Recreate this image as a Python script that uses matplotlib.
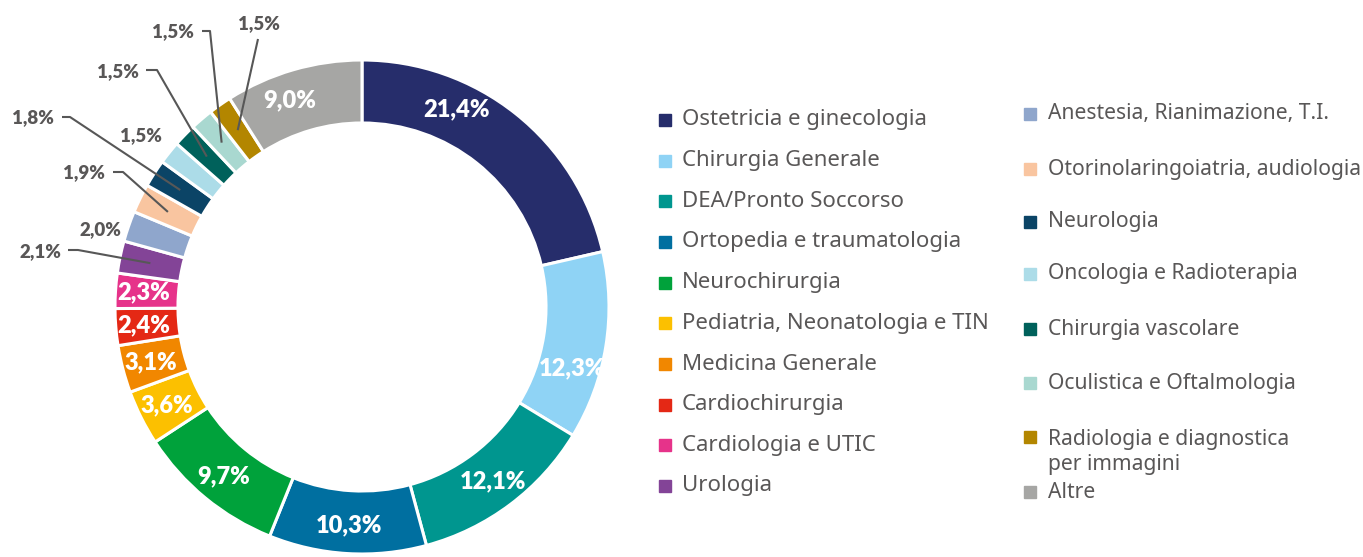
import numpy as np
import matplotlib
matplotlib.use("Agg")
import matplotlib.pyplot as plt
from matplotlib.patches import Rectangle

# ---------------------------------------------------------------------------
# data
# ---------------------------------------------------------------------------
categories = [
    "Ostetricia e ginecologia", "Chirurgia Generale", "DEA/Pronto Soccorso",
    "Ortopedia e traumatologia", "Neurochirurgia", "Pediatria, Neonatologia e TIN",
    "Medicina Generale", "Cardiochirurgia", "Cardiologia e UTIC", "Urologia",
    "Anestesia, Rianimazione, T.I.", "Otorinolaringoiatria, audiologia",
    "Neurologia", "Oncologia e Radioterapia", "Chirurgia vascolare",
    "Oculistica e Oftalmologia", "Radiologia e diagnostica\nper immagini", "Altre",
]
values = [21.4, 12.3, 12.1, 10.3, 9.7, 3.6, 3.1, 2.4, 2.3, 2.1,
          2.0, 1.9, 1.8, 1.5, 1.5, 1.5, 1.5, 9.0]
colors = ["#262d6b", "#8fd3f5", "#00968f", "#006fa0", "#00a23b", "#fcc000",
          "#f18700", "#e42815", "#e6338a", "#834497", "#8fa6cc", "#f9c5a0",
          "#0b4466", "#acdce8", "#00615b", "#a9d8d0", "#b38600", "#a6a6a4"]

# labels drawn inside the ring, the rest outside with leader lines
inside = [0, 1, 2, 3, 4, 5, 6, 7, 8, 17]
angle_shift = {0: 13, 1: -7, 17: 3}           # degrees, to nudge a few labels
# outside labels: index, text centre (px), leader points before the slice (px)
outside = [
    (9,  (40, 252),  [(68, 250), (78, 250)]),
    (10, (100, 230), None),
    (11, (84, 173),  [(113, 172), (123, 172)]),
    (12, (33, 118),  [(62, 117), (70, 117)]),
    (13, (141, 136), None),
    (14, (118, 72),  [(146, 70), (157, 70)]),
    (15, (173, 32),  [(202, 31), (210, 31)]),
    (16, (259, 24),  [(258, 39)]),
]

W, H = 1363, 557
cx, cy, R = 362, 307, 247                      # ring centre / radius in px
ring = 0.255
txt_col = "#595757"

def fmt(v):
    return f"{v:.1f}".replace(".", ",") + "%"

def px2d(p):
    return ((p[0] - cx) / R, (cy - p[1]) / R)

fig = plt.figure(figsize=(W / 100, H / 100), dpi=100)
ax = fig.add_axes([(cx - R) / W, (H - cy - R) / H, 2 * R / W, 2 * R / H])

wedges, _ = ax.pie(values, colors=colors, startangle=90, counterclock=False,
                   radius=1, wedgeprops=dict(width=ring, edgecolor="white", linewidth=2.2))
ax.set_xlim(-1, 1)
ax.set_ylim(-1, 1)
ax.set_aspect("equal")
ax.axis("off")

def mid_angle(i):
    w = wedges[i]
    return np.deg2rad((w.theta1 + w.theta2) / 2)

pct_font = dict(family="Lato", weight="heavy")

for i in inside:
    a = mid_angle(i) + np.deg2rad(angle_shift.get(i, 0))
    r = 0.885
    ax.text(r * np.cos(a), r * np.sin(a), fmt(values[i]), color="white",
            fontsize=17, ha="center", va="center", clip_on=False, **pct_font)

for i, tpos, pts in outside:
    tx, ty = px2d(tpos)
    ax.text(tx, ty, fmt(values[i]), color=txt_col, fontsize=13.5,
            ha="center", va="center", clip_on=False, **pct_font)
    if pts:
        a = mid_angle(i)
        anchor = (0.875 * np.cos(a), 0.875 * np.sin(a))
        line = [px2d(p) for p in pts] + [anchor]
        xs, ys = zip(*line)
        ax.plot(xs, ys, color="#575757", lw=1.5, clip_on=False,
                solid_capstyle="butt")

# ---------------------------------------------------------------------------
# legend, two columns
# ---------------------------------------------------------------------------
col1_y = np.linspace(120, 486, 10)
col2_y = [114, 169, 222, 274, 329, 383, 437, 492]
columns = [(range(0, 10), 665, 682, col1_y, 16),
           (range(10, 18), 1030, 1048, col2_y, 15.2)]
for idx, mx, tx, ys, fs in columns:
    for i, y in zip(idx, ys):
        fig.patches.append(Rectangle(((mx - 6) / W, (H - y - 6) / H), 12 / W, 12 / H,
                                     transform=fig.transFigure, color=colors[i]))
        two_lines = "\n" in categories[i]
        fig.text(tx / W, (H - y + (8 if two_lines else 0)) / H, categories[i],
                 ha="left", va="top" if two_lines else "center",
                 linespacing=1.27, family="Noto Sans", fontsize=fs, color=txt_col)

fig.savefig("out.png", dpi=100)
